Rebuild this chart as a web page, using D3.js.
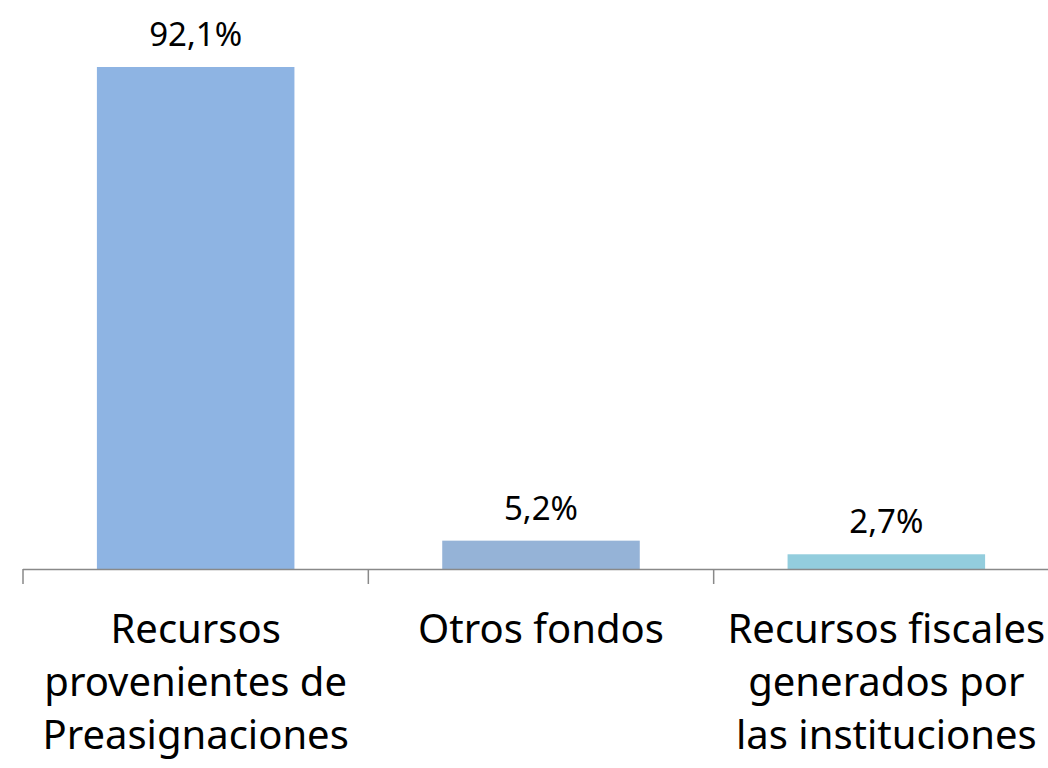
<!DOCTYPE html>
<html>
<head>
<meta charset="utf-8">
<script src="https://cdn.jsdelivr.net/npm/d3@7"></script>
<style>
  html, body { margin: 0; padding: 0; background: #fff; }
  svg { display: block; }
  text { font-family: "Noto Sans", "Open Sans", sans-serif; fill: #000; }
</style>
</head>
<body>
<svg id="chart" width="1048" height="768"></svg>
<script>
// Source of funds, share of total (%)
const categories = [
  ["Recursos", "provenientes de", "Preasignaciones"],
  ["Otros fondos"],
  ["Recursos fiscales", "generados por", "las instituciones"]
];
const values = [92.1, 5.2, 2.7];
const valueLabels = ["92,1%", "5,2%", "2,7%"];
const barColors = ["#8EB4E3", "#95B3D7", "#93CDDD"];

const svg = d3.select("#chart");
const margin = { left: 23, right: -11, top: 67, bottom: 199 };
const width = 1048 - margin.left - margin.right;
const height = 768 - margin.top - margin.bottom;

const g = svg.append("g").attr("transform", `translate(${margin.left},${margin.top})`);

const x = d3.scaleBand().domain(d3.range(values.length)).range([0, width]).paddingInner(0.428).paddingOuter(0.214);
const y = d3.scaleLinear().domain([0, 92.1]).range([height, 0]);

// bars
g.selectAll("rect.bar").data(values).join("rect")
  .attr("class", "bar")
  .attr("x", (d, i) => x(i))
  .attr("width", x.bandwidth())
  .attr("y", d => y(d))
  .attr("height", d => height - y(d))
  .attr("fill", (d, i) => barColors[i]);

// value labels
g.selectAll("text.val").data(values).join("text")
  .attr("class", "val")
  .attr("x", (d, i) => x(i) + x.bandwidth() / 2)
  .attr("y", d => y(d) - 21)
  .attr("text-anchor", "middle")
  .style("font-size", "33px")
  .text((d, i) => valueLabels[i]);

// category axis: baseline with tick marks between categories
const step = x.step();
const axis = g.append("g").attr("transform", `translate(0,${height})`);
axis.append("line")
  .attr("x1", 0).attr("x2", width)
  .attr("y1", 0.5).attr("y2", 0.5)
  .attr("stroke", "#898989").attr("stroke-width", 1.5);
axis.selectAll("line.tick").data(d3.range(values.length + 1)).join("line")
  .attr("class", "tick")
  .attr("x1", i => i * step).attr("x2", i => i * step)
  .attr("y1", 0).attr("y2", 15)
  .attr("stroke", "#898989").attr("stroke-width", 1.5);

// category labels
axis.selectAll("text.cat").data(categories).join("text")
  .attr("class", "cat")
  .attr("x", (d, i) => x(i) + x.bandwidth() / 2)
  .attr("y", 74)
  .attr("text-anchor", "middle")
  .style("font-size", "40px")
  .selectAll("tspan").data(d => d).join("tspan")
  .attr("x", function () { return this.parentNode.getAttribute("x"); })
  .attr("dy", (d, i) => i === 0 ? 0 : 53)
  .text(d => d);
</script>
</body>
</html>
